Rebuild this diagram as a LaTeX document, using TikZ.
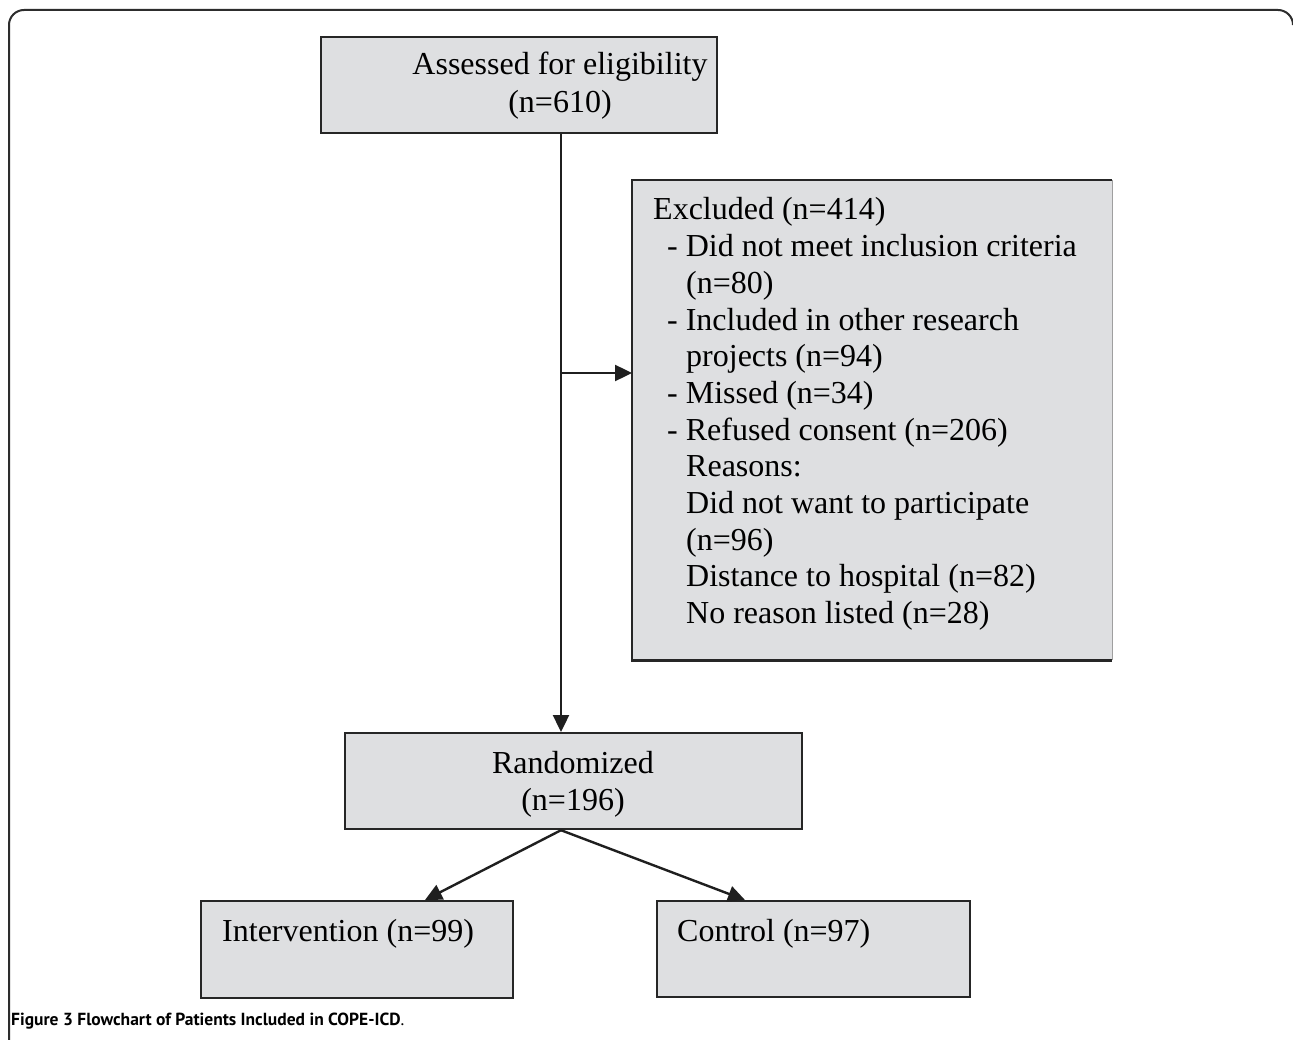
\documentclass[tikz,border=0pt]{standalone}
\usepackage{fontspec}
\setmainfont{Liberation Serif}
\newfontfamily\capfont{PT Sans}
\usetikzlibrary{arrows.meta,calc}
\definecolor{boxfill}{RGB}{222,223,225}
\definecolor{boxline}{RGB}{38,38,38}
\definecolor{framecol}{RGB}{45,45,45}
\begin{document}
\begin{tikzpicture}[x=1pt,y=-1pt,
  box/.style={draw=boxline, line width=2.2pt, fill=boxfill, inner sep=0pt, anchor=north west},
  lbl/.style={font=\fontsize{32}{37.5}\selectfont, inner sep=0pt},
  exlbl/.style={font=\fontsize{32}{36.7}\selectfont, inner sep=0pt},
  conn/.style={line width=2.4pt, draw=black!88, -{Triangle[length=17pt,width=16pt]}}
]
\useasboundingbox (0,0) rectangle (1293,1040);
\fill[white] (0,0) rectangle (1293,1040);
\begin{scope}
\clip (0,0) rectangle (1293,1040);
\draw[framecol, line width=2pt] (9,1050) -- (9,25) arc[start angle=180,end angle=270,radius=15] -- (1278,10) arc[start angle=270,end angle=360,radius=15];
\end{scope}

% boxes
\node[box, minimum width=396pt, minimum height=96pt] (assess) at (320,36) {};
\node[fill=boxfill, inner sep=0pt, anchor=north west, minimum width=480pt, minimum height=480pt] (excl) at (632,180) {};
\draw[boxline, line width=2.2pt, line join=miter] (excl.north east) -- (excl.north west) -- (excl.south west) -- (excl.south east);
\draw[gray!75, line width=1pt] (excl.north east) -- (excl.south east);
\node[box, minimum width=457pt, minimum height=96pt] (rand) at (344,732) {};
\node[box, minimum width=312pt, minimum height=97pt] (inter) at (200,900) {};
\node[box, minimum width=313pt, minimum height=96pt] (ctrl) at (656,900) {};

% texts
\node[lbl, anchor=base] (assessT) at (560,75) {\begin{tabular}[t]{@{}c@{}}Assessed for eligibility\\(n=610)\end{tabular}};
\node[exlbl, anchor=base west] (exclT) at (653,220) {\begin{tabular}[t]{@{}l@{}}
Excluded (n=414)\\
\hspace*{14pt}- Did not meet inclusion criteria\\
\hspace*{33pt}(n=80)\\
\hspace*{14pt}- Included in other research\\
\hspace*{33pt}projects (n=94)\\
\hspace*{14pt}- Missed (n=34)\\
\hspace*{14pt}- Refused consent (n=206)\\
\hspace*{33pt}Reasons:\\
\hspace*{33pt}Did not want to participate\\
\hspace*{33pt}(n=96)\\
\hspace*{33pt}Distance to hospital (n=82)\\
\hspace*{33pt}No reason listed (n=28)
\end{tabular}};
\node[lbl, anchor=base] (randT) at (573,773) {\begin{tabular}[t]{@{}c@{}}Randomized\\(n=196)\end{tabular}};
\node[lbl, anchor=base west] (interT) at (222,941) {Intervention (n=99)};
\node[lbl, anchor=base west] (ctrlT) at (677,941) {Control (n=97)};

% connectors
\coordinate (branch) at (561,373);
\draw[line width=2.4pt, draw=black!88] (assess.south -| branch) -- (branch);
\draw[conn] (branch) -- (rand.north -| branch);
\draw[conn] (branch) -- (branch -| excl.west);
\coordinate (split) at (rand.south -| branch);
\draw[conn] (split) -- ($(inter.north west)+(225,0)$);
\draw[conn] (split) -- ($(ctrl.north west)+(89,0)$);

% caption
\node[anchor=base west, inner sep=0pt, font=\capfont\fontsize{17.5}{20}\selectfont] (cap) at (11,1025) {\textbf{Figure 3 Flowchart of Patients Included in COPE-ICD}.};
\end{tikzpicture}
\end{document}
